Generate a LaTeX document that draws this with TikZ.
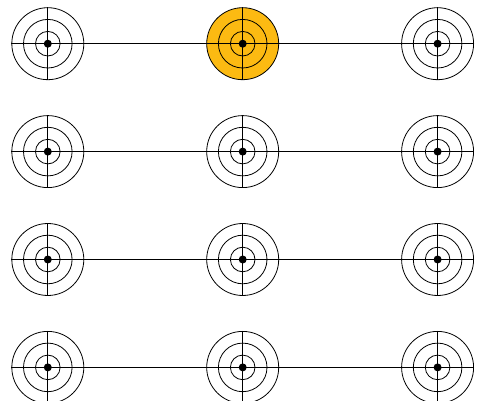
\documentclass[tikz,border=0pt]{standalone}
\definecolor{gold}{RGB}{252,186,18}
\tikzset{
  target/.style={circle,draw=black,line width=0.8pt,minimum size=72pt,inner sep=0pt},
  ring/.style={draw=black,line width=0.8pt},
  wire/.style={draw=black,line width=0.8pt}
}
\begin{document}
\begin{tikzpicture}[x=1pt,y=-1pt]
\clip (0,0) rectangle (480,401);
\useasboundingbox (0,0) rectangle (480,401);
\foreach \r/\y in {1/43.7,2/151.6,3/259.5,4/367.4}{
  \foreach \c/\x in {1/47.8,2/242.7,3/437.6}{
    \ifnum\r\c=12
      \node[target,fill=gold] (n\r\c) at (\x,\y) {};
    \else
      \node[target] (n\r\c) at (\x,\y) {};
    \fi
    \draw[ring] (n\r\c.center) circle[radius=24.3];
    \draw[ring] (n\r\c.center) circle[radius=12.3];
    \draw[wire] (n\r\c.north) -- (n\r\c.south);
    \fill (n\r\c.center) circle[radius=4];
  }
  \draw[wire] (n\r1.west) -- (n\r3.east);
}
\end{tikzpicture}
\end{document}
